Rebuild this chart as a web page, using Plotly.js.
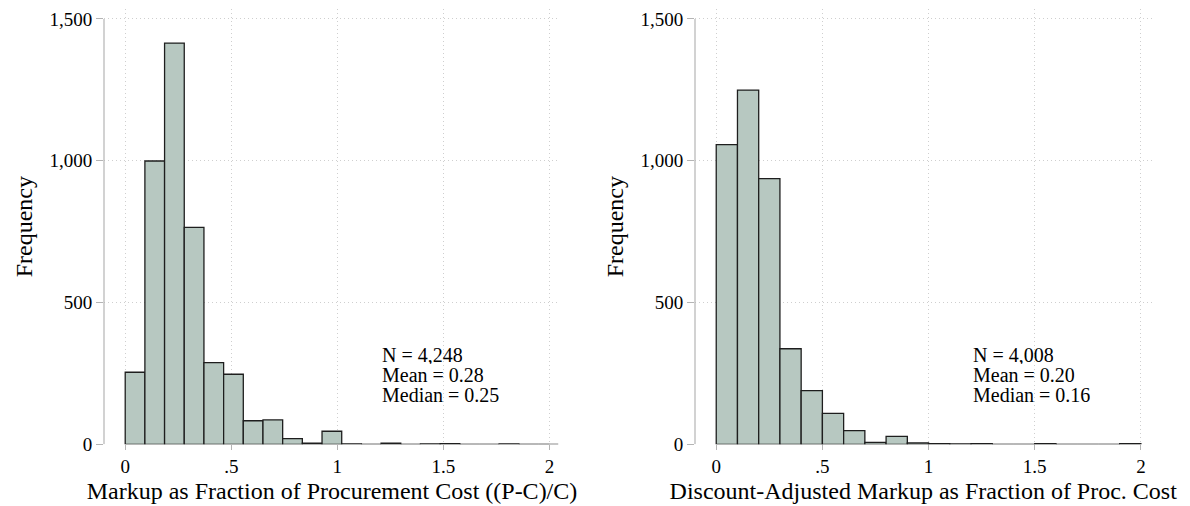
<!DOCTYPE html>
<html>
<head>
<meta charset="utf-8">
<script src="https://cdn.plot.ly/plotly-3.0.1.min.js"></script>
<style>html,body{margin:0;padding:0;background:#fff;}#chart{width:1190px;height:506px;}</style>
</head>
<body>
<div id="chart"></div>
<script>
// ---- data ----
const leftBinStart = 0;
const leftBinWidth = 0.0928;
const leftCounts = [254, 999, 1415, 765, 288, 247, 83, 86, 20, 4, 46, 1, 0, 4, 0, 1, 2, 0, 0, 1, 0, 0];
const rightBinStart = 0;
const rightBinWidth = 0.1;
const rightCounts = [1057, 1249, 937, 337, 189, 109, 48, 7, 28, 5, 2, 1, 2, 0, 0, 2, 0, 0, 0, 2];
const xTickVals = [0, 0.5, 1, 1.5, 2];
const xTickText = ['0', '.5', '1', '1.5', '2'];
const yTickVals = [0, 500, 1000, 1500];
const yTickText = ['0', '500', '1,000', '1,500'];
const leftStats = ['N = 4,248', 'Mean = 0.28', 'Median = 0.25'];
const rightStats = ['N = 4,008', 'Mean = 0.20', 'Median = 0.16'];
const leftXTitle = 'Markup as Fraction of Procurement Cost ((P-C)/C)';
const rightXTitle = 'Discount-Adjusted Markup as Fraction of Proc. Cost';
const yTitle = 'Frequency';

// ---- styling ----
const FONT = 'Liberation Serif, Times New Roman, serif';
const fill = '#b7c8c1';
const edge = '#1e1e1e';
const axisGray = '#b4b4b4';
const gridGray = '#cfcfcf';

function centers(start, w, n) { return Array.from({length: n}, (_, i) => start + w * (i + 0.5)); }

const traces = [
  {type: 'bar', x: centers(leftBinStart, leftBinWidth, leftCounts.length), y: leftCounts,
   width: leftBinWidth, marker: {color: fill, line: {color: edge, width: 1.3}},
   xaxis: 'x', yaxis: 'y', hoverinfo: 'x+y', showlegend: false},
  {type: 'bar', x: centers(rightBinStart, rightBinWidth, rightCounts.length), y: rightCounts,
   width: rightBinWidth, marker: {color: fill, line: {color: edge, width: 1.3}},
   xaxis: 'x2', yaxis: 'y2', hoverinfo: 'x+y', showlegend: false}
];

const xr = [-0.1, 2.05];
const yr = [0, 1535];

function xAxis(domain, title, anchor) {
  return {domain: domain, range: xr, anchor: anchor, tickvals: xTickVals, ticktext: xTickText,
    ticks: 'outside', ticklen: 5, tickcolor: axisGray, tickwidth: 1,
    showline: false, zeroline: false, showgrid: true, gridcolor: gridGray, griddash: '1px,3px', gridwidth: 1,
    tickfont: {family: FONT, size: 19, color: '#000'},
    title: {text: title, font: {family: FONT, size: 24, color: '#000'}, standoff: 6},
    fixedrange: true};
}
function yAxis(domain, anchor) {
  return {domain: domain, range: yr, anchor: anchor, tickvals: yTickVals, ticktext: yTickText,
    ticks: 'outside', ticklen: 7, tickcolor: axisGray, tickwidth: 1,
    showline: false, zeroline: false, showgrid: true, gridcolor: gridGray, griddash: '1px,3px', gridwidth: 1,
    tickfont: {family: FONT, size: 19, color: '#000'},
    title: {text: yTitle, font: {family: FONT, size: 24, color: '#000'}, standoff: 10},
    fixedrange: true};
}

const yDom = [1 - 444.3 / 506, 1 - 9 / 506];
const shapes = [];
[['x', 'y'], ['x2', 'y2']].forEach(([xa, ya]) => {
  const x0 = xTickVals[0], x1 = xTickVals[xTickVals.length - 1];
  const y0 = yTickVals[0], y1 = yTickVals[yTickVals.length - 1];
  shapes.push({type: 'line', xref: xa, yref: ya, x0: x0, x1: x1, y0: y0, y1: y0,
    line: {color: axisGray, width: 1.2}, layer: 'below'});
  shapes.push({type: 'line', xref: xa + ' domain', yref: ya, x0: 0, x1: 0, y0: y0, y1: y1,
    line: {color: axisGray, width: 1.2}, layer: 'above'});
});

const annotations = [];
const statY = [316, 246, 176];
[[leftStats, 'x', 'y'], [rightStats, 'x2', 'y2']].forEach(([lines, xa, ya]) => {
  lines.forEach((t, i) => annotations.push({text: t, xref: xa, yref: ya, x: 1.2, y: statY[i],
    xanchor: 'left', yanchor: 'middle', showarrow: false, align: 'left', height: 19, valign: 'middle',
    font: {family: FONT, size: 20, color: '#000'}}));
});

const layout = {
  width: 1190, height: 506,
  margin: {l: 0, r: 0, t: 0, b: 0},
  paper_bgcolor: '#fff', plot_bgcolor: '#fff',
  bargap: 0, barmode: 'overlay',
  xaxis: xAxis([104 / 1190, 560 / 1190], leftXTitle, 'y'),
  yaxis: yAxis(yDom, 'x'),
  xaxis2: xAxis([695 / 1190, 1151.5 / 1190], rightXTitle, 'y2'),
  yaxis2: yAxis(yDom, 'x2'),
  shapes: shapes,
  annotations: annotations,
  font: {family: FONT}
};

Plotly.newPlot('chart', traces, layout, {displayModeBar: false, staticPlot: true});
</script>
</body>
</html>
